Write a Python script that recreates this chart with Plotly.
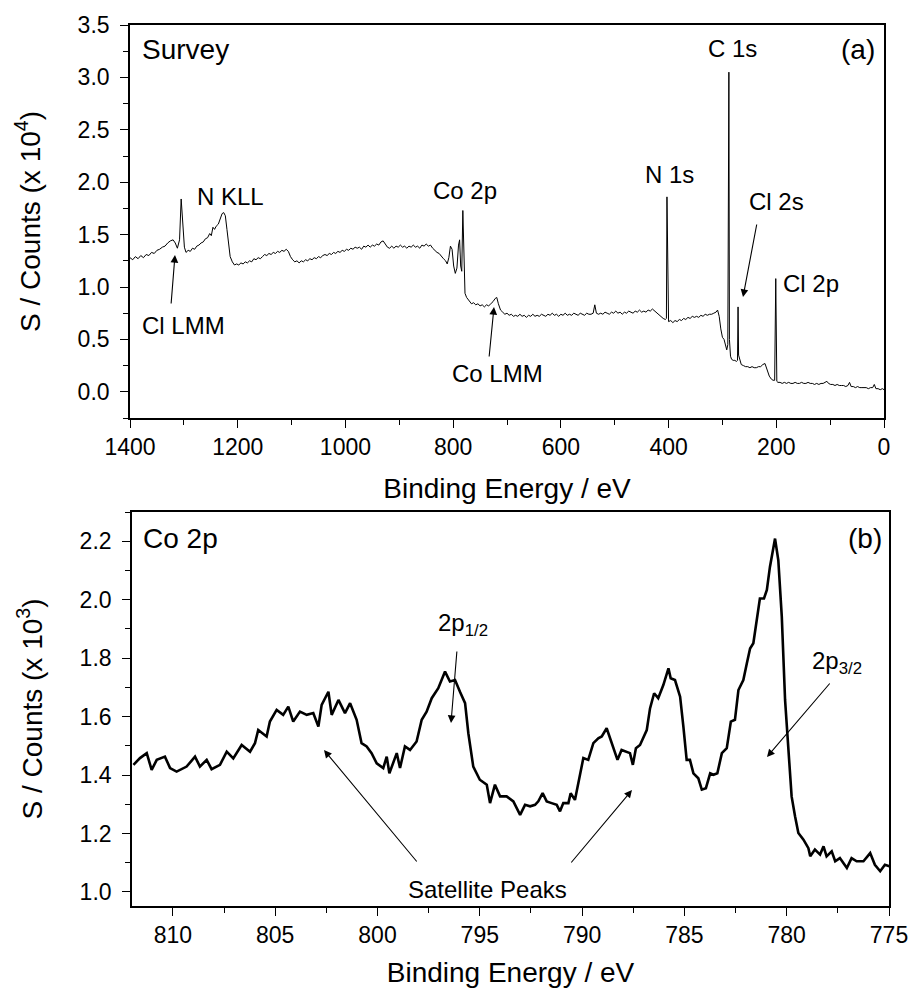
import plotly.graph_objects as go

# ---------------- data: survey spectrum (counts x 10^4) ----------------
survey_be = [
    1400, 1395, 1390, 1385, 1380, 1375, 1370, 1365, 1360, 1355,
    1350, 1345, 1340, 1335, 1330, 1325, 1320, 1316, 1312, 1308,
    1305, 1302, 1299, 1296, 1292, 1288, 1284, 1280, 1276, 1272,
    1268, 1264, 1260, 1256, 1252, 1249, 1246, 1243, 1240, 1236,
    1232, 1229, 1226, 1223, 1220, 1217, 1214, 1210, 1206, 1202,
    1198, 1194, 1190, 1186, 1182, 1178, 1174, 1170, 1166, 1162,
    1158, 1154, 1150, 1146, 1142, 1138, 1134, 1130, 1126, 1122,
    1118, 1114, 1110, 1106, 1102, 1098, 1094, 1090, 1086, 1082,
    1078, 1074, 1070, 1066, 1062, 1058, 1054, 1050, 1046, 1042,
    1038, 1034, 1030, 1026, 1022, 1018, 1014, 1010, 1006, 1002,
    998, 994, 990, 986, 982, 978, 974, 970, 966, 962,
    958, 954, 950, 946, 942, 938, 934, 930, 926, 922,
    918, 914, 910, 906, 902, 898, 894, 890, 886, 882,
    878, 874, 870, 866, 862, 858, 854, 850, 846, 842,
    838, 834, 830, 826, 822, 818, 814, 811, 808, 805,
    802, 799, 796, 793, 790, 788, 786, 784, 782, 780,
    778, 775, 772, 769, 766, 762, 758, 754, 750, 746,
    742, 738, 734, 730, 726, 722, 719, 716, 712, 708,
    704, 700, 696, 692, 688, 684, 680, 676, 672, 668,
    664, 660, 656, 652, 648, 644, 640, 636, 632, 628,
    624, 620, 616, 612, 608, 604, 600, 596, 592, 588,
    584, 580, 576, 572, 568, 564, 560, 556, 552, 548,
    544, 540, 537, 534, 530, 526, 522, 518, 514, 510,
    506, 502, 498, 494, 490, 486, 482, 478, 474, 470,
    466, 462, 458, 454, 450, 446, 442, 438, 434, 430,
    426, 422, 418, 414, 410, 406, 404, 403, 401, 400,
    396, 392, 388, 384, 380, 376, 372, 368, 364, 360,
    356, 352, 348, 344, 340, 336, 332, 328, 324, 320,
    316, 312, 309, 306, 303, 300, 297, 294, 292, 290,
    289, 288, 287, 285, 283, 280, 277, 274, 272, 271,
    270, 268, 265, 261, 257, 253, 249, 245, 241, 237,
    233, 229, 225, 221, 217, 213, 209, 206, 203, 201,
    199, 197, 193, 189, 185, 181, 177, 173, 169, 165,
    161, 157, 153, 149, 145, 141, 137, 133, 129, 125,
    121, 117, 113, 109, 106, 103, 99, 95, 91, 87,
    83, 79, 75, 71, 67, 64, 61, 57, 53, 49,
    45, 41, 37, 33, 29, 25, 21, 18, 15, 11,
    7, 3, 0,
]
survey_counts = [
    1.28, 1.26, 1.29, 1.27, 1.30, 1.28, 1.31, 1.30, 1.33, 1.32,
    1.35, 1.36, 1.38, 1.39, 1.42, 1.44, 1.45, 1.42, 1.37, 1.45,
    1.84, 1.60, 1.38, 1.33, 1.35, 1.34, 1.37, 1.36, 1.39, 1.40,
    1.42, 1.43, 1.46, 1.47, 1.51, 1.49, 1.57, 1.55, 1.58, 1.60,
    1.66, 1.70, 1.71, 1.68, 1.55, 1.40, 1.29, 1.24, 1.21, 1.22,
    1.21, 1.23, 1.22, 1.24, 1.23, 1.25, 1.24, 1.27, 1.26, 1.28,
    1.27, 1.29, 1.31, 1.30, 1.32, 1.31, 1.33, 1.32, 1.34, 1.33,
    1.35, 1.34, 1.36, 1.34, 1.29, 1.26, 1.24, 1.25, 1.23, 1.25,
    1.24, 1.26, 1.25, 1.27, 1.26, 1.28, 1.27, 1.29, 1.28, 1.30,
    1.31, 1.30, 1.32, 1.31, 1.33, 1.32, 1.34, 1.33, 1.35, 1.34,
    1.36, 1.35, 1.37, 1.36, 1.38, 1.37, 1.38, 1.36, 1.39, 1.38,
    1.40, 1.38, 1.40, 1.39, 1.41, 1.40, 1.43, 1.44, 1.41, 1.38,
    1.37, 1.39, 1.37, 1.39, 1.38, 1.40, 1.38, 1.39, 1.37, 1.39,
    1.38, 1.40, 1.38, 1.39, 1.37, 1.40, 1.39, 1.41, 1.39, 1.40,
    1.37, 1.35, 1.33, 1.32, 1.29, 1.27, 1.25, 1.22, 1.28, 1.39,
    1.36, 1.20, 1.13, 1.18, 1.40, 1.45, 1.20, 1.15, 1.73, 1.30,
    0.94, 0.90, 0.88, 0.86, 0.84, 0.85, 0.83, 0.84, 0.82, 0.83,
    0.81, 0.83, 0.82, 0.84, 0.86, 0.89, 0.90, 0.84, 0.78, 0.76,
    0.74, 0.75, 0.73, 0.74, 0.72, 0.73, 0.72, 0.74, 0.72, 0.73,
    0.71, 0.73, 0.72, 0.74, 0.72, 0.73, 0.72, 0.74, 0.73, 0.72,
    0.74, 0.73, 0.75, 0.73, 0.74, 0.72, 0.74, 0.73, 0.75, 0.73,
    0.74, 0.73, 0.75, 0.74, 0.73, 0.75, 0.74, 0.73, 0.75, 0.74,
    0.74, 0.75, 0.83, 0.75, 0.74, 0.75, 0.74, 0.76, 0.75, 0.74,
    0.76, 0.75, 0.77, 0.75, 0.76, 0.74, 0.76, 0.75, 0.77, 0.76,
    0.75, 0.77, 0.76, 0.78, 0.76, 0.77, 0.76, 0.78, 0.77, 0.79,
    0.77, 0.76, 0.74, 0.72, 0.70, 0.69, 0.70, 1.86, 0.68, 0.67,
    0.68, 0.66, 0.68, 0.67, 0.69, 0.68, 0.70, 0.69, 0.71, 0.70,
    0.72, 0.71, 0.72, 0.71, 0.73, 0.72, 0.74, 0.73, 0.74, 0.74,
    0.75, 0.76, 0.78, 0.72, 0.60, 0.52, 0.50, 0.45, 0.40, 0.45,
    3.05, 3.05, 0.50, 0.34, 0.31, 0.30, 0.30, 0.29, 0.30, 0.81,
    0.35, 0.30, 0.26, 0.25, 0.24, 0.24, 0.23, 0.24, 0.23, 0.23,
    0.24, 0.24, 0.26, 0.27, 0.21, 0.15, 0.12, 0.11, 0.11, 1.08,
    0.10, 0.09, 0.09, 0.08, 0.09, 0.08, 0.09, 0.08, 0.08, 0.09,
    0.08, 0.08, 0.09, 0.08, 0.08, 0.09, 0.08, 0.08, 0.07, 0.08,
    0.07, 0.08, 0.08, 0.09, 0.10, 0.08, 0.07, 0.07, 0.06, 0.07,
    0.06, 0.06, 0.06, 0.05, 0.06, 0.09, 0.05, 0.05, 0.04, 0.05,
    0.04, 0.04, 0.04, 0.04, 0.03, 0.04, 0.04, 0.07, 0.03, 0.03,
    0.02, 0.03, 0.02,
]

# ---------------- data: Co 2p high-resolution (counts x 10^3) ----------------
co2p_be = [
    811.93, 811.61, 811.28, 811.04, 810.79, 810.39, 810.14, 809.82, 809.33, 808.92,
    808.68, 808.35, 808.11, 807.70, 807.37, 807.05, 806.64, 806.23, 805.99, 805.83,
    805.42, 805.26, 804.93, 804.61, 804.36, 804.12, 803.79, 803.46, 803.14, 802.89,
    802.73, 802.40, 802.24, 801.91, 801.59, 801.34, 801.02, 800.78, 800.53, 800.29,
    800.04, 799.72, 799.55, 799.42, 799.06, 798.90, 798.66, 798.41, 798.09, 797.84,
    797.60, 797.35, 797.03, 796.70, 796.46, 796.21, 795.97, 795.72, 795.56, 795.32,
    795.00, 794.66, 794.50, 794.26, 794.01, 793.69, 793.36, 793.03, 792.79, 792.54,
    792.30, 792.14, 791.93, 791.73, 791.49, 791.24, 791.08, 790.92, 790.67, 790.56,
    790.35, 790.18, 789.94, 789.70, 789.45, 789.21, 789.04, 788.80, 788.56, 788.27,
    788.07, 787.82, 787.66, 787.52, 787.37, 787.17, 786.84, 786.68, 786.48, 786.28,
    786.03, 785.78, 785.67, 785.46, 785.21, 785.05, 784.89, 784.73, 784.56, 784.32,
    784.15, 783.95, 783.74, 783.58, 783.39, 783.17, 782.93, 782.73, 782.53, 782.36,
    782.12, 781.95, 781.79, 781.63, 781.46, 781.31, 781.11, 780.97, 780.82, 780.57,
    780.41, 780.24, 780.08, 779.91, 779.76, 779.59, 779.43, 779.18, 778.94, 778.85,
    778.62, 778.37, 778.20, 778.05, 777.80, 777.63, 777.40, 777.23, 777.06, 776.83,
    776.58, 776.25, 775.92, 775.69, 775.43, 775.20, 774.97,
]
co2p_counts = [
    1.435, 1.458, 1.475, 1.418, 1.452, 1.463, 1.424, 1.412, 1.429, 1.463,
    1.429, 1.452, 1.420, 1.435, 1.480, 1.457, 1.503, 1.480, 1.509, 1.554,
    1.532, 1.583, 1.623, 1.606, 1.634, 1.583, 1.617, 1.606, 1.612, 1.566,
    1.640, 1.685, 1.606, 1.657, 1.612, 1.646, 1.589, 1.509, 1.498, 1.475,
    1.440, 1.424, 1.463, 1.406, 1.475, 1.424, 1.498, 1.486, 1.515, 1.589,
    1.617, 1.663, 1.697, 1.754, 1.720, 1.725, 1.685, 1.646, 1.543, 1.429,
    1.384, 1.367, 1.304, 1.367, 1.327, 1.327, 1.310, 1.264, 1.298, 1.293,
    1.298, 1.310, 1.338, 1.310, 1.304, 1.298, 1.276, 1.304, 1.304, 1.338,
    1.315, 1.372, 1.458, 1.452, 1.509, 1.526, 1.532, 1.560, 1.509, 1.452,
    1.486, 1.480, 1.475, 1.435, 1.492, 1.503, 1.554, 1.628, 1.680, 1.663,
    1.708, 1.765, 1.731, 1.725, 1.668, 1.566, 1.452, 1.452, 1.406, 1.389,
    1.350, 1.355, 1.406, 1.401, 1.406, 1.475, 1.492, 1.583, 1.589, 1.691,
    1.725, 1.782, 1.833, 1.851, 1.930, 2.004, 2.004, 2.033, 2.112, 2.209,
    2.135, 1.942, 1.657, 1.486, 1.327, 1.258, 1.202, 1.179, 1.150, 1.122,
    1.145, 1.128, 1.156, 1.122, 1.139, 1.105, 1.116, 1.099, 1.082, 1.116,
    1.105, 1.105, 1.133, 1.093, 1.071, 1.093, 1.088,
]

assert len(survey_be) == len(survey_counts)
assert len(co2p_be) == len(co2p_counts)

# ---------------- labels ----------------
panel_labels = ["Survey", "(a)", "Co 2p", "(b)"]
survey_peak_labels = ["C 1s", "N 1s", "Cl 2s", "Cl 2p", "N KLL", "Co 2p", "Cl LMM", "Co LMM"]
x_title = "Binding Energy / eV"
y_title_a = "S / Counts (x 10<sup>4</sup>)"
y_title_b = "S / Counts (x 10<sup>3</sup>)"

W, H = 913, 996
FONT = "Liberation Sans, Arial, sans-serif"


def px(x):
    return x / W


def py(y):
    return 1 - y / H


fig = go.Figure()
fig.add_trace(go.Scatter(x=survey_be, y=survey_counts, mode="lines",
                         line=dict(color="black", width=1), xaxis="x", yaxis="y",
                         showlegend=False))
fig.add_trace(go.Scatter(x=co2p_be, y=co2p_counts, mode="lines",
                         line=dict(color="black", width=2.6), xaxis="x2", yaxis="y2",
                         showlegend=False))

axis_common = dict(
    showline=True, linecolor="black", linewidth=1.6, mirror=True,
    ticks="outside", ticklen=8, tickwidth=1.4, tickcolor="black",
    showgrid=False, zeroline=False, automargin=False,
    tickfont=dict(family=FONT, size=23, color="black"),
    title_font=dict(family=FONT, size=28, color="black"),
)
minor_common = dict(ticks="outside", ticklen=5, tickwidth=1.4, tickcolor="black")

fig.update_layout(
    template="none",
    width=W, height=H,
    margin=dict(l=0, r=0, t=0, b=0, autoexpand=False),
    paper_bgcolor="white", plot_bgcolor="white",
    font=dict(family=FONT, color="black"),
    xaxis=dict(axis_common, domain=[px(130), px(884)], anchor="y",
               range=[1400, 0], tickmode="linear", tick0=0, dtick=200,
               minor=dict(minor_common, dtick=100),
               title=dict(text=x_title, standoff=19)),
    yaxis=dict(axis_common, domain=[py(418), py(25)], anchor="x",
               range=[-0.25, 3.5], tickmode="linear", tick0=0, dtick=0.5, tickformat=".1f",
               minor=dict(minor_common, dtick=0.25), ticklabelstandoff=6,
               title=dict(text=y_title_a, standoff=29)),
    xaxis2=dict(axis_common, domain=[px(132), px(889)], anchor="y2",
                range=[812, 775], tickmode="linear", tick0=775, dtick=5,
                minor=dict(minor_common, dtick=2.5),
                title=dict(text=x_title, standoff=15)),
    yaxis2=dict(axis_common, domain=[py(906), py(512)], anchor="x2",
                range=[0.952, 2.30], tickmode="linear", tick0=1.0, dtick=0.2, tickformat=".1f",
                minor=dict(minor_common, dtick=0.1), ticklabelstandoff=6,
                title=dict(text=y_title_b, standoff=29)),
)

ann = []


def text_ann(text, x, y, size=24, xanchor="center"):
    ann.append(dict(text=text, xref="paper", yref="paper", x=px(x), y=py(y),
                    xanchor=xanchor, yanchor="middle", showarrow=False,
                    font=dict(family=FONT, size=size, color="black")))


def arrow_ann(tail, head):
    ann.append(dict(text="", xref="paper", yref="paper", x=px(head[0]), y=py(head[1]),
                    ax=tail[0] - head[0], ay=tail[1] - head[1], axref="pixel", ayref="pixel",
                    showarrow=True, arrowhead=2, arrowsize=1.4, arrowwidth=1.1,
                    arrowcolor="black", standoff=0, startstandoff=0))


# panel (a)
text_ann(panel_labels[0], 140, 50, size=28, xanchor="left")
text_ann(panel_labels[1], 858, 50, size=28)
text_ann(survey_peak_labels[0], 732, 49)
text_ann(survey_peak_labels[1], 669, 175)
text_ann(survey_peak_labels[2], 776, 202)
text_ann(survey_peak_labels[3], 811, 283)
text_ann(survey_peak_labels[4], 230, 196)
text_ann(survey_peak_labels[5], 465, 190)
text_ann(survey_peak_labels[6], 183, 325)
text_ann(survey_peak_labels[7], 497, 373)
arrow_ann((171, 305), (175, 255))
arrow_ann((489, 358), (494, 307))
arrow_ann((757, 223), (743, 297))

# panel (b)
text_ann(panel_labels[2], 141, 538, size=28, xanchor="left")
text_ann(panel_labels[3], 865, 538, size=28)
text_ann("2p<sub>1/2</sub>", 463, 624)
text_ann("2p<sub>3/2</sub>", 837, 662)
text_ann("Satellite Peaks", 487, 889)
arrow_ann((457, 650), (451, 723))
arrow_ann((831, 682), (767, 757))
arrow_ann((418, 863), (324, 750))
arrow_ann((570, 864), (632, 790))

fig.update_layout(annotations=ann)

fig.write_html("out.html")
